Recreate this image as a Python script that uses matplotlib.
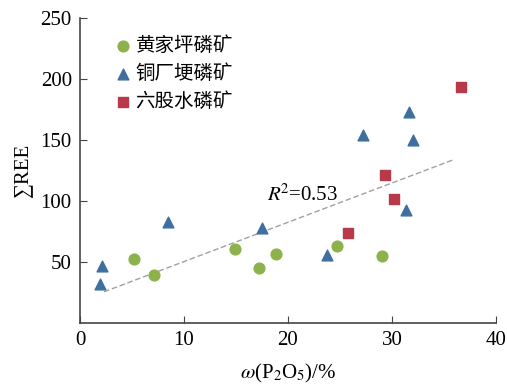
import numpy as np
import matplotlib
matplotlib.use("Agg")
import matplotlib.pyplot as plt

plt.rcParams["font.family"] = ["Liberation Serif", "Noto Sans CJK SC", "DejaVu Sans"]
plt.rcParams["mathtext.fontset"] = "stix"

# 黄家坪磷矿
hjp_x = [5.2, 7.1, 14.9, 17.2, 18.8, 24.7, 29.0]
hjp_y = [52.5, 39, 61, 45, 56.5, 63, 55]

# 铜厂埂磷矿
tcg_x = [2.1, 1.9, 8.5, 17.5, 23.75, 27.2, 31.6, 32.0, 31.4]
tcg_y = [47, 32, 83, 78, 56, 154, 173, 150, 93]

# 六股水磷矿
lgs_x = [25.8, 29.3, 30.2, 36.6]
lgs_y = [74, 121, 102, 193]

# trend line
trend_x = [2.3, 36.0]
trend_y = [25.6, 134.0]

fig = plt.figure(figsize=(5.07, 3.86), dpi=100)
ax = fig.add_axes([0.158, 0.163, 0.82, 0.791])

ax.plot(trend_x, trend_y, linestyle=(0, (4, 2)), color="#a0a0a0", linewidth=1.0, zorder=1)

ax.scatter(hjp_x, hjp_y, marker="o", s=60, color="#8db24c", label="黄家坪磷矿", zorder=3)
ax.scatter(tcg_x, tcg_y, marker="^", s=60, color="#3f6f9f", label="铜厂埂磷矿", zorder=3)
ax.scatter(lgs_x, lgs_y, marker="s", s=55, color="#b83a4a", label="六股水磷矿", zorder=3)

ax.text(18, 105, r"$R^{\!2}$=0.53", fontsize=15, va="center", ha="left")

ax.set_xlim(0, 40)
ax.set_ylim(0, 250)
ax.set_xticks([0, 10, 20, 30, 40])
ax.set_yticks([50, 100, 150, 200, 250])
ax.tick_params(direction="in", labelsize=15, length=5, color="#444444", pad=6)

for side in ["top", "right"]:
    ax.spines[side].set_visible(False)
for side in ["left", "bottom"]:
    ax.spines[side].set_color("#444444")
    ax.spines[side].set_linewidth(1.2)

ax.set_xlabel(r"$\omega$(P$_2$O$_5$)/%", fontsize=15, labelpad=8)
ax.set_ylabel("∑REE", fontsize=15, labelpad=6)

leg = ax.legend(loc="upper left", bbox_to_anchor=(0.035, 1.0), frameon=False,
                prop={"family": ["Noto Sans CJK SC"], "size": 14},
                handletextpad=0.1, labelspacing=0.35, handlelength=1.1)

fig.savefig("out.png", dpi=100)
